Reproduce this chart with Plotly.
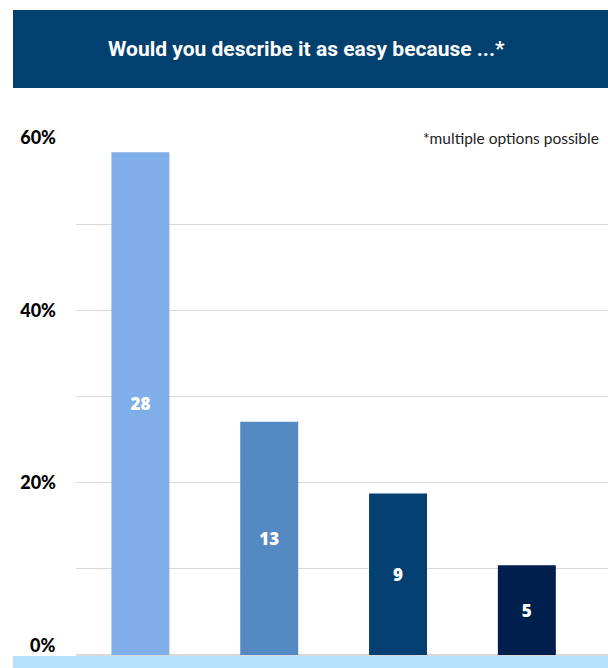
import plotly.graph_objects as go

# Survey answers (multiple options possible), total respondents
reasons = ["Reason 1", "Reason 2", "Reason 3", "Reason 4"]
counts = [28, 13, 9, 5]
respondents = 48
bar_colors = ["#7FAEE8", "#5589C3", "#033F70", "#001F4C"]
tick_values = [0, 20, 40, 60]
tick_labels = ["", "20%", "40%", "60%"]
baseline_label = "0%"

shares = [c / respondents * 100 for c in counts]

fig = go.Figure(
    go.Bar(
        x=reasons,
        y=shares,
        text=[str(c) for c in counts],
        textposition="inside",
        insidetextanchor="middle",
        textfont=dict(family="Open Sans", size=17, color="white", weight=800),
        marker=dict(color=bar_colors, line=dict(width=0)),
        width=0.45,
        hoverinfo="skip",
    )
)

W, H = 608, 668
L, R, T, B = 76, 0, 138, 13
pw, ph = W - L - R, H - T - B


def px_x(x):
    return (x - L) / pw


def px_y(y):
    return (H - B - y) / ph


tick_font = dict(family="Lato", size=18, color="black", weight=900)

fig.update_layout(
    width=W,
    height=H,
    margin=dict(l=L, r=R, t=T, b=B),
    paper_bgcolor="white",
    plot_bgcolor="white",
    showlegend=False,
    uniformtext=dict(minsize=8, mode="show"),
    xaxis=dict(
        range=[-0.5, 3.63],
        showticklabels=False,
        showgrid=False,
        zeroline=False,
        showline=False,
        ticks="",
    ),
    yaxis=dict(
        range=[0, 60],
        tickvals=tick_values,
        ticktext=tick_labels,
        tickfont=tick_font,
        ticklabelstandoff=19,
        showgrid=True,
        gridcolor="#D9D9D9",
        gridwidth=1,
        minor=dict(dtick=10, showgrid=True, gridcolor="#D9D9D9", gridwidth=1),
        zeroline=True,
        zerolinecolor="#D9D9D9",
        zerolinewidth=2,
        showline=False,
        ticks="",
    ),
    shapes=[
        # title banner
        dict(type="rect", xref="paper", yref="paper",
             x0=px_x(13), x1=1.0, y0=px_y(88), y1=px_y(10),
             fillcolor="#024070", line=dict(width=0), layer="below"),
        # light footer band
        dict(type="rect", xref="paper", yref="paper",
             x0=px_x(13), x1=1.0, y0=px_y(668), y1=px_y(656),
             fillcolor="#B5E3FB", line=dict(width=0), layer="above"),
    ],
    annotations=[
        dict(text="Would you describe it as easy because ...*",
             xref="paper", yref="paper", x=px_x(306), y=px_y(49),
             xanchor="center", yanchor="middle", showarrow=False,
             font=dict(family="Roboto", size=21, color="white", weight="bold")),
        dict(text="*multiple options possible",
             xref="paper", yref="y", x=px_x(601), y=60,
             xanchor="right", yanchor="middle", showarrow=False,
             font=dict(family="Lato", size=15.5, color="#222222")),
        # baseline tick label, lifted clear of the footer band
        dict(text=baseline_label, xref="paper", yref="y", x=0, y=0,
             xanchor="right", yanchor="bottom", xshift=-19, yshift=-3,
             showarrow=False, font=tick_font),
    ],
)

fig.write_html("out.html")
